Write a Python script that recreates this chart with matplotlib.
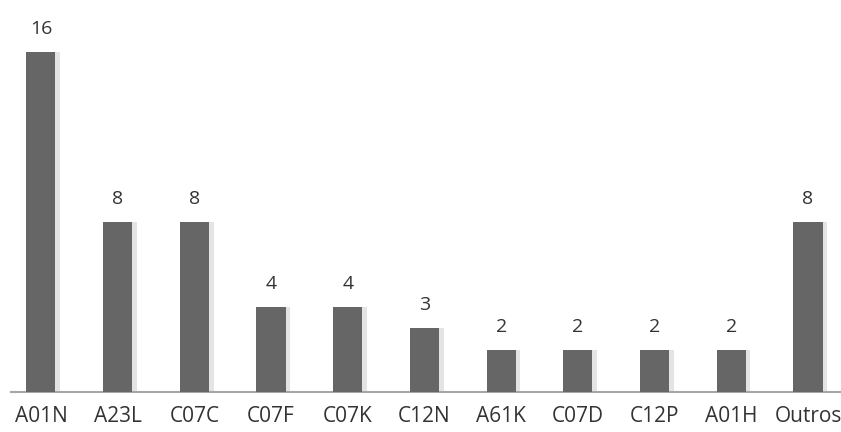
import matplotlib
matplotlib.use("Agg")
import matplotlib.pyplot as plt

categories = ["A01N", "A23L", "C07C", "C07F", "C07K", "C12N",
              "A61K", "C07D", "C12P", "A01H", "Outros"]
counts = [16, 8, 8, 4, 4, 3, 2, 2, 2, 2, 8]

plt.rcParams["font.family"] = ["Open Sans", "DejaVu Sans"]

fig = plt.figure(figsize=(8.41, 4.32), dpi=100)
# baseline at y=392px, a bar of 16 reaches up to y=52px
ax = fig.add_axes([11 / 841, (432 - 392) / 432, 830 / 841, 392 / 432])

x = list(range(len(categories)))
bars = ax.bar(x, counts, width=0.38, color="#666666", edgecolor="none", zorder=3)

# soft shadow to the right of each bar
ax.bar([i + 0.06 for i in x], counts, width=0.38, color="#e4e4e4",
       edgecolor="none", zorder=2)

for rect, v in zip(bars, counts):
    ax.annotate(str(v), (rect.get_x() + rect.get_width() / 2, v),
                xytext=(0, 10), textcoords="offset points",
                ha="center", va="bottom", fontsize=14, color="#333333")

ax.set_xlim(-0.39, 10.43)
ax.set_ylim(0, 16 * 392 / 340)
ax.set_xticks(x)
ax.set_xticklabels(categories, fontsize=15, color="#333333")
ax.tick_params(axis="x", length=0, pad=10)
ax.set_yticks([])

for s in ["top", "right", "left"]:
    ax.spines[s].set_visible(False)
ax.spines["bottom"].set_color("#a6a6a6")
ax.spines["bottom"].set_linewidth(1.5)

fig.savefig("out.png", dpi=100)
